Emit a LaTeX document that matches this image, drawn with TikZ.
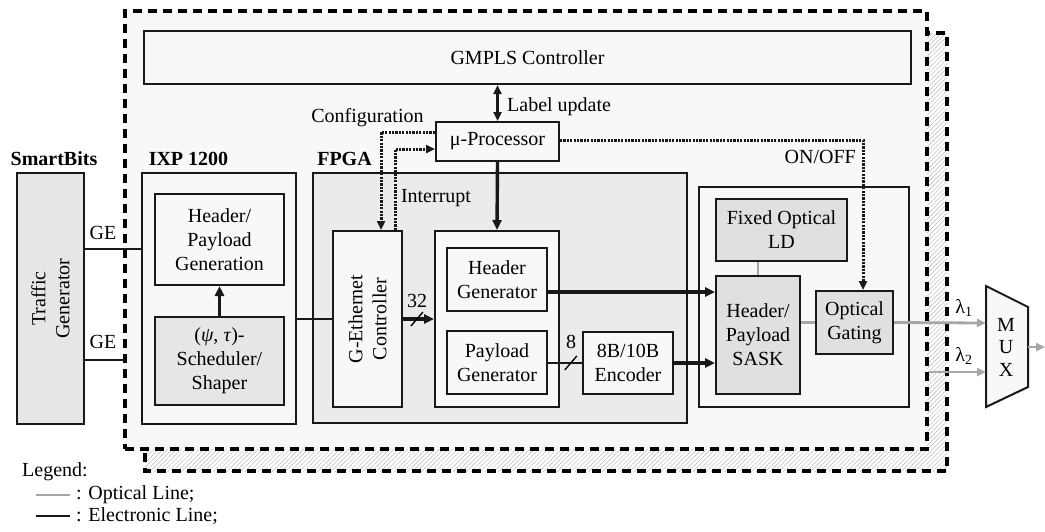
\documentclass[tikz,border=0pt]{standalone}
\usepackage{fontspec}
\setmainfont{Liberation Serif}
\usetikzlibrary{arrows.meta,patterns.meta,calc}
\newcommand\dgfont{\fontsize{20}{24}\selectfont}
\definecolor{paper}{HTML}{F8F8F8}
\definecolor{chip}{HTML}{EBEBEB}
\definecolor{unit}{HTML}{E6E6E6}
\definecolor{optic}{HTML}{E0E0E0}
\definecolor{optline}{HTML}{A6A6A6}
\tikzset{
  box/.style={draw=black!90, line width=2pt, inner sep=0pt, align=center, font=\dgfont},
  txt/.style={inner sep=0pt, align=center, font=\dgfont},
  frame/.style={draw=black, line width=3.4pt, dash pattern=on 9pt off 6pt},
  elec/.style={draw=black!90, line width=2.6pt},
  thick elec/.style={draw=black!90, line width=3.4pt},
  optic line/.style={draw=optline, line width=2.8pt},
  ctrl/.style={draw=black!90, line width=3pt, dash pattern=on 2.2pt off 1.2pt},
  tip/.style={-{Triangle[length=10pt,width=9pt]}},
  tipboth/.style={{Triangle[length=9pt,width=8pt]}-{Triangle[length=9pt,width=8pt]}},
  ctip/.style={-{Triangle[length=9pt,width=8pt]}},
  otip/.style={-{Triangle[length=9pt,width=8pt]}},
}
\begin{document}
\begin{tikzpicture}[x=1pt,y=-1pt]
\useasboundingbox (0,0) rectangle (1045,531);
\fill[white] (0,0) rectangle (1045,531);

% hatched shadow of the node frame
\fill[pattern={Lines[angle=45,distance=3.2pt,line width=0.45pt]}, pattern color=black!28]
  (145,33) rectangle (947,471);
\draw[frame] (145,33) rectangle (947,471);

% node frame
\node[fill=paper, frame, minimum width=802pt, minimum height=438pt, inner sep=0pt] (mainbox) at (526,230) {};

% top-level blocks
\node[box, fill=paper, minimum width=767pt, minimum height=53pt] (gmpls) at (527.5,57.5) {GMPLS Controller};
\node[box, fill=paper, minimum width=123pt, minimum height=39pt] (up) at (497.5,141.5) {μ-Processor};

\node[box, fill=unit, minimum width=67pt, minimum height=251pt] (tg) at (50.5,298.5) {};
\node[txt, rotate=90] (tgtext) at (tg.center) {Traffic\\Generator};

% IXP 1200
\node[box, fill=paper, minimum width=154pt, minimum height=251pt] (ixp) at (219,298.5) {};
\node[box, fill=paper, minimum width=129pt, minimum height=91pt] (hpg) at (219.5,239.5) {Header/\\Payload\\Generation};
\node[box, fill=unit, minimum width=129pt, minimum height=88pt] (sched) at (219.5,361) {(\textit{ψ}, \textit{τ})-\\Scheduler/\\Shaper};

% FPGA
\node[box, fill=chip, minimum width=374pt, minimum height=250pt] (fpga) at (500,298) {};
\node[box, fill=paper, minimum width=69pt, minimum height=176pt] (geth) at (367.5,319) {};
\node[txt, rotate=90] (gethtext) at (geth.center) {G-Ethernet\\Controller};
\node[box, fill=paper, minimum width=124pt, minimum height=176pt] (gen) at (497,319) {};
\node[box, fill=paper, minimum width=100pt, minimum height=63pt] (hg) at (497,279.5) {Header\\Generator};
\node[box, fill=paper, minimum width=100pt, minimum height=63pt] (pg) at (497,362.5) {Payload\\Generator};
\node[box, fill=paper, minimum width=90pt, minimum height=62pt] (enc) at (628,363) {8B/10B\\Encoder};

% optical part
\node[box, fill=paper, minimum width=210pt, minimum height=220pt] (opt) at (804,297) {};
\node[box, fill=optic, minimum width=131pt, minimum height=62pt] (ld) at (781.5,230) {Fixed Optical\\LD};
\node[box, fill=optic, minimum width=84pt, minimum height=118pt] (sask) at (758,335) {Header/\\Payload\\SASK};
\node[box, fill=optic, minimum width=77pt, minimum height=63pt] (gate) at (854.5,322.5) {Optical\\Gating};

% multiplexer
\draw[fill=paper, draw=black!90, line width=2pt, line join=miter]
  (986,286) -- (1028,307) -- (1028,387) -- (986,407) -- cycle;
\node[txt, font=\fontsize{20}{22.5}\selectfont] (muxtext) at (1006,347) {M\\U\\X};
\coordinate (mux1) at (986,323);
\coordinate (mux2) at (986,372);
\coordinate (muxout) at (1028,347);
\coordinate (outend) at (1045,347);

% titles and labels
\node[txt, font=\dgfont\bfseries] (lsb) at (54,159) {SmartBits};
\node[txt, font=\dgfont\bfseries] (lixp) at (188.5,159) {IXP 1200};
\node[txt, font=\dgfont\bfseries] (lfpga) at (344.5,159) {FPGA};
\node[txt] (lcfg) at (367.5,118) {Configuration};
\node[txt, anchor=west] (llu) at (507,107) {Label update};
\node[txt] (lint) at (436,198) {Interrupt};
\node[txt, anchor=east] (lonoff) at (856,157) {ON/OFF};
\node[txt] (lge1) at (103,233) {GE};
\node[txt] (lge2) at (103,342) {GE};
\node[txt] (ll1) at (964,308) {λ\textsubscript{1}};
\node[txt] (ll2) at (964,356) {λ\textsubscript{2}};

% GE links
\coordinate (ge1) at (142,249);
\coordinate (ge2) at (125,360);
\draw[elec] (tg.east |- ge1) -- (ge1);
\draw[elec] (tg.east |- ge2) -- (ge2);

% electronic connectors
\draw[elec] (ixp.east |- geth.west) -- (geth.west);
\draw[thick elec, tip] (sched.north) -- (hpg.south);
\draw[thick elec, tipboth] (gmpls.south -| up.north) -- (up.north);
\draw[thick elec, tip] (up.south) -- (gen.north);
\draw[thick elec, tip] (geth.east) -- (gen.west) coordinate[pos=0.45] (bus32);
\draw[line width=1.4pt] ($(bus32)+(-6,7)$) -- ($(bus32)+(6,-7)$);
\node[txt] (l32) at (417,301) {32};
\draw[elec] (pg.east |- enc.west) -- (enc.west) coordinate[pos=0.67] (bus8);
\draw[line width=1.4pt] ($(bus8)+(-6,7)$) -- ($(bus8)+(6,-7)$);
\node[txt] (l8) at (571,342) {8};
\coordinate (s1) at (716,292);
\draw[thick elec, tip] (hg.east |- s1) -- (sask.west |- s1);
\draw[thick elec, tip] (enc.east) -- (sask.west |- enc.east);

% control signals
\coordinate (cfgturn) at (381,132);
\coordinate (intturn) at (395,149);
\coordinate (onturn) at (863,140);
\draw[ctrl, ctip] (up.west |- cfgturn) -- (cfgturn) -- (geth.north -| cfgturn);
\draw[ctrl, ctip] (geth.north -| intturn) -- (intturn) -- (up.west |- intturn);
\draw[ctrl, ctip] (up.east |- onturn) -- (onturn) -- (gate.north -| onturn);

% optical connectors
\draw[optic line] (sask.north |- ld.south) -- (sask.north);
\draw[optic line] (sask.east |- gate.west) -- (gate.west);
\draw[optic line, otip] (gate.east) -- (mux1);
\draw[optic line, otip] (mainbox.east |- mux2) -- (mux2);
\draw[optic line, otip] (muxout) -- (outend);

% legend
\node[txt, anchor=west] (leg) at (22,472) {Legend:};
\coordinate (lo1) at (36,495);
\coordinate (lo2) at (70,495);
\coordinate (le1) at (36,516);
\coordinate (le2) at (70,516);
\draw[optic line, line width=2.4pt] (lo1) -- (lo2);
\draw[elec, line width=2.4pt] (le1) -- (le2);
\node[txt, anchor=west] (lopt) at (76,495) {: Optical Line;};
\node[txt, anchor=west] (lel) at (76,516) {: Electronic Line;};
\end{tikzpicture}
\end{document}
